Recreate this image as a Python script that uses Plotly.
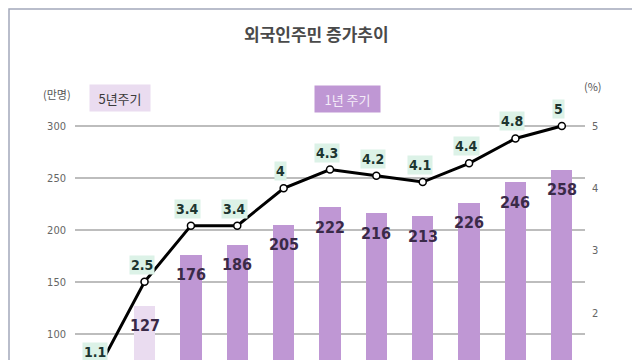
import plotly.graph_objects as go

# ---- data ----
years = ["2006", "2010", "2016", "2017", "2018", "2019", "2020", "2021", "2022", "2023", "2024"]
cycle = ["5년주기", "5년주기", "1년 주기", "1년 주기", "1년 주기", "1년 주기", "1년 주기",
         "1년 주기", "1년 주기", "1년 주기", "1년 주기"]
population = [54, 127, 176, 186, 205, 222, 216, 213, 226, 246, 258]   # 만명
ratio = [1.1, 2.5, 3.4, 3.4, 4.0, 4.3, 4.2, 4.1, 4.4, 4.8, 5.0]       # %
left_ticks = [0, 50, 100, 150, 200, 250, 300]
right_ticks = [0, 1, 2, 3, 4, 5]

title_text = "외국인주민 증가추이"
left_unit = "(만명)"
right_unit = "(%)"

# ---- style ----
PAGE = 8                      # default body margin of the html page
W, H = 640 - PAGE, 360 - PAGE
# plot area in page pixels: x 75..585, y 116..360
ML, MR, MT, MB = 75 - PAGE, 640 - 585, 116 - PAGE, 0
PW, PH = W - ML - MR, H - MT - MB
KR = "Noto Sans CJK KR, Noto Sans, sans-serif"
NUM = "Liberation Sans Narrow, DejaVu Sans Condensed, Liberation Sans, sans-serif"
cycle_color = {"5년주기": "#eadcf0", "1년 주기": "#bf97d4"}
LEFT_RANGE = [75, 309.6]
RIGHT_RANGE = [1.244, 5.16]


def px_x(px):
    return (px - PAGE - ML) / PW


def px_y(py):
    return (H - MB - (py - PAGE)) / PH


fig = go.Figure()

fig.add_trace(go.Bar(
    x=years, y=population,
    marker=dict(color=[cycle_color[c] for c in cycle], line=dict(width=0)),
    width=0.46, yaxis="y", hoverinfo="skip", showlegend=False,
))

fig.add_trace(go.Scatter(
    x=years, y=ratio, yaxis="y2", mode="lines+markers",
    line=dict(color="#000000", width=3),
    marker=dict(symbol="circle", size=7, color="white", line=dict(color="#000000", width=1.5)),
    hoverinfo="skip", showlegend=False, cliponaxis=True,
))

annotations = []
# bar value labels (category axis annotations use the category index)
for i, v in enumerate(population):
    annotations.append(dict(
        x=i, y=v, xref="x", yref="y", text=f"<b>{v}</b>", showarrow=False,
        xanchor="center", yanchor="middle",
        yshift=-20, font=dict(family=NUM, size=16, color="#3a2a48"),
    ))
# line value labels (arrow tail positioned on the axis so low points still show)
off = 17 / (PH / (RIGHT_RANGE[1] - RIGHT_RANGE[0]))
for i, r in enumerate(ratio):
    annotations.append(dict(
        x=i, y=r, xref="x", yref="y2", axref="x", ayref="y2", ax=i, ay=r + off,
        text=f"<b>{r:g}</b>", showarrow=True, arrowcolor="rgba(0,0,0,0)", arrowwidth=0.1,
        xanchor="center", yanchor="middle",
        xshift=-3, bgcolor="#dcf2e7", borderpad=1,
        font=dict(family=NUM, size=14, color="#1d3530"),
    ))


def page_text(px, py, text, **kw):
    d = dict(x=px_x(px), y=px_y(py), xref="paper", yref="paper", text=text,
             showarrow=False, xanchor="center", yanchor="middle")
    d.update(kw)
    annotations.append(d)


# title and unit labels
page_text(316, 33, f"<b>{title_text}</b>", font=dict(family=KR, size=17, color="#4a4a4a"))
page_text(57, 94, left_unit, font=dict(family=KR, size=11, color="#555555"))
page_text(593, 86, right_unit, font=dict(family=KR, size=11, color="#555555"))
# cycle labels
page_text(120, 98, cycle[0], bgcolor=cycle_color[cycle[0]], width=58, height=24,
          font=dict(family=KR, size=13, color="#3a3a3a"))
page_text(347, 99, cycle[-1], bgcolor=cycle_color[cycle[-1]], width=63, height=24,
          font=dict(family=KR, size=13, color="#f4ecf8"))

shapes = [dict(type="rect", xref="paper", yref="paper", x0=px_x(9), x1=px_x(633),
               y0=px_y(420), y1=px_y(9), line=dict(color="#a3a8ba", width=1.5), layer="below")]

fig.update_layout(
    template="none",
    width=W, height=H, margin=dict(l=ML, r=MR, t=MT, b=MB, pad=0, autoexpand=False),
    paper_bgcolor="white", plot_bgcolor="white",
    bargap=0,
    xaxis=dict(type="category", showticklabels=False, showgrid=False, zeroline=False, automargin=False,
               showline=False, ticks="", range=[-0.5, len(years) - 0.5]),
    yaxis=dict(range=LEFT_RANGE, tickvals=left_ticks, showgrid=True, gridcolor="#bdbdbd", gridwidth=1.5,
               zeroline=False, showline=False, ticks="", automargin=False,
               tickfont=dict(family=NUM, size=11, color="#666666"), ticklabelstandoff=8),
    yaxis2=dict(range=RIGHT_RANGE, tickvals=right_ticks, overlaying="y", side="right", showgrid=False,
                zeroline=False, showline=False, ticks="", automargin=False,
                tickfont=dict(family=NUM, size=11, color="#666666"), ticklabelstandoff=6),
    annotations=annotations, shapes=shapes,
)

fig.write_html("out.html")
